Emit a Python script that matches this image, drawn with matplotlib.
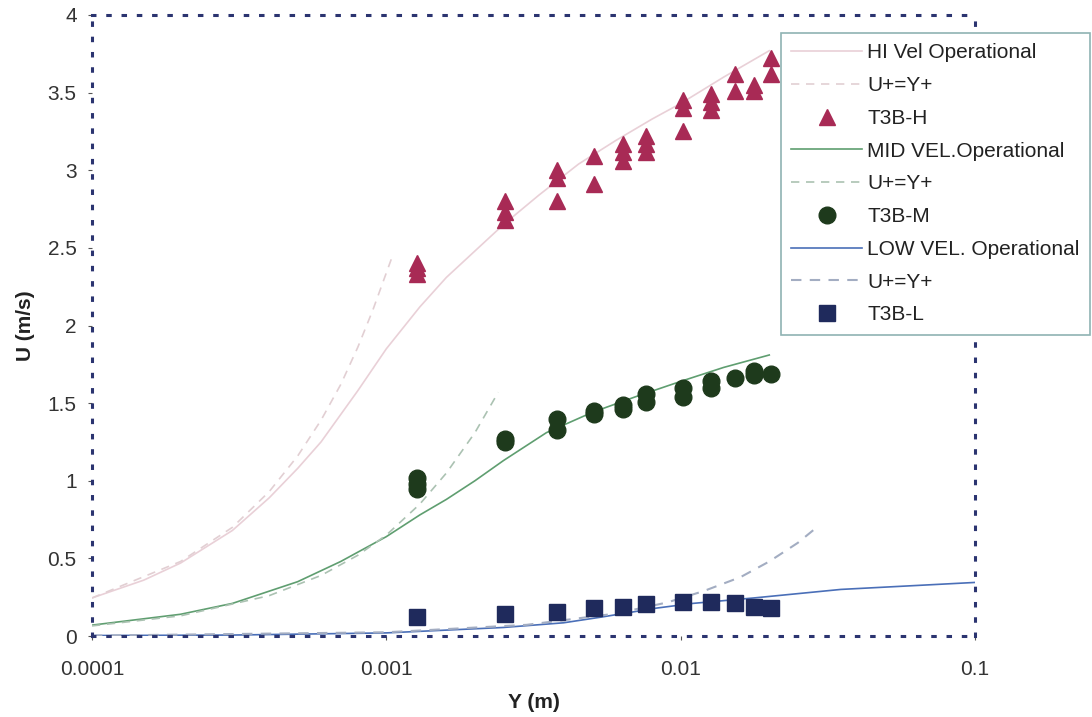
import numpy as np
import matplotlib.pyplot as plt
from matplotlib.ticker import FixedLocator, NullLocator

plt.rcParams['font.family'] = ['Liberation Sans', 'DejaVu Sans']

# measurement heights (m), 0.05 inch steps
y_pos = [0.00127, 0.00254, 0.00381, 0.00508, 0.00635, 0.00762,
         0.01016, 0.0127, 0.01524, 0.01778, 0.02032]

# T3B-H (several repeats per height)
h_vals = [[2.40, 2.37, 2.33], [2.80, 2.73, 2.68], [3.00, 2.95, 2.80],
          [3.09, 2.91], [3.17, 3.12, 3.06], [3.22, 3.17, 3.12],
          [3.45, 3.40, 3.25], [3.49, 3.44, 3.39], [3.62, 3.51],
          [3.55, 3.51], [3.72, 3.62]]
# T3B-M
m_vals = [[1.02, 0.98, 0.95], [1.27, 1.25], [1.40, 1.33], [1.45, 1.43],
          [1.49, 1.46], [1.56, 1.51], [1.60, 1.54], [1.64, 1.60],
          [1.66], [1.71, 1.68], [1.69]]
# T3B-L
l_vals = [0.12, 0.14, 0.155, 0.18, 0.19, 0.205, 0.22, 0.22, 0.21, 0.19, 0.18]

# HI vel operational profile
hi_y = [1e-4, 1.5e-4, 2e-4, 3e-4, 4e-4, 5e-4, 6e-4, 8e-4, 1e-3, 1.3e-3,
        1.6e-3, 2e-3, 2.5e-3, 3.3e-3, 4.5e-3, 6e-3, 8e-3, 1e-2, 1.4e-2, 2e-2]
hi_u = [0.245, 0.36, 0.47, 0.68, 0.89, 1.08, 1.25, 1.58, 1.85, 2.12,
        2.31, 2.48, 2.65, 2.84, 3.04, 3.19, 3.33, 3.43, 3.60, 3.77]
hi_lin_y = [1e-4, 2e-4, 3e-4, 4e-4, 5e-4, 6e-4, 7e-4, 8e-4, 9e-4, 1.05e-3]
hi_lin_u = [0.245, 0.48, 0.70, 0.93, 1.16, 1.39, 1.62, 1.86, 2.10, 2.45]

# MID vel operational profile
mid_y = [1e-4, 2e-4, 3e-4, 5e-4, 7e-4, 1e-3, 1.3e-3, 1.6e-3, 2e-3, 2.5e-3,
         3.5e-3, 5e-3, 7e-3, 1e-2, 1.4e-2, 2e-2]
mid_u = [0.07, 0.14, 0.21, 0.35, 0.48, 0.64, 0.78, 0.88, 1.00, 1.13,
         1.31, 1.44, 1.54, 1.64, 1.73, 1.81]
mid_lin_y = [1e-4, 2e-4, 4e-4, 6e-4, 8e-4, 1e-3, 1.3e-3, 1.6e-3, 2e-3, 2.4e-3]
mid_lin_u = [0.065, 0.13, 0.26, 0.39, 0.52, 0.65, 0.85, 1.05, 1.31, 1.57]

# LOW vel operational profile
low_y = [1e-4, 3e-4, 1e-3, 2.5e-3, 4e-3, 5.3e-3, 8.3e-3, 1.1e-2, 1.77e-2,
         3.5e-2, 0.1]
low_u = [0.003, 0.006, 0.02, 0.055, 0.085, 0.12, 0.18, 0.21, 0.245, 0.30, 0.345]
low_lin_y = [1e-4, 1e-3, 3e-3, 6e-3, 9e-3, 0.012, 0.016, 0.02, 0.025, 0.029]
low_lin_u = [0.0024, 0.024, 0.072, 0.144, 0.216, 0.29, 0.38, 0.48, 0.60, 0.70]

fig = plt.figure(figsize=(10.92, 7.17), dpi=100)
ax = fig.add_axes([92/1092, 81/717, (975-92)/1092, (636-15)/717])
ax.set_xscale('log')

ax.plot(hi_y, hi_u, color='#e9d0d7', lw=1.2, label='HI Vel Operational')
ax.plot(hi_lin_y, hi_lin_u, color='#e2cfd3', lw=1.2, ls=(0, (5, 4)), label='U+=Y+')
hx = [y for y, v in zip(y_pos, h_vals) for _ in v]
hv = [u for v in h_vals for u in v]
ax.plot(hx, hv, ls='none', marker='^', ms=11, color='#a82a55', label='T3B-H')

ax.plot(mid_y, mid_u, color='#5f9e70', lw=1.2, label='MID VEL.Operational')
ax.plot(mid_lin_y, mid_lin_u, color='#abc2b2', lw=1.2, ls=(0, (5, 4)), label='U+=Y+')
mx = [y for y, v in zip(y_pos, m_vals) for _ in v]
mv = [u for v in m_vals for u in v]
ax.plot(mx, mv, ls='none', marker='o', ms=12, color='#1e3a1c', label='T3B-M')

ax.plot(low_y, low_u, color='#4a6fb8', lw=1.2, label='LOW VEL. Operational')
ax.plot(low_lin_y, low_lin_u, color='#a3adc2', lw=1.5, ls=(0, (5, 4)), label='U+=Y+')
ax.plot(y_pos, l_vals, ls='none', marker='s', ms=11, color='#1f2a5c', label='T3B-L')

ax.set_xlim(1e-4, 0.1)
ax.set_ylim(0, 4)
ax.xaxis.set_major_locator(FixedLocator([1e-4, 1e-3, 1e-2, 1e-1]))
ax.xaxis.set_minor_locator(NullLocator())
ax.set_xticklabels(['0.0001', '0.001', '0.01', '0.1'])
ax.set_yticks([0, 0.5, 1, 1.5, 2, 2.5, 3, 3.5, 4])
ax.set_yticklabels(['0', '0.5', '1', '1.5', '2', '2.5', '3', '3.5', '4'])
ax.tick_params(axis='x', length=3, pad=14, labelsize=15, color='#555555', labelcolor='#333333')
ax.tick_params(axis='y', length=3, pad=8, labelsize=15, color='#555555', labelcolor='#333333')

for s in ax.spines.values():
    s.set_color('#2b3470')
    s.set_linewidth(2.2)
    s.set_linestyle((0, (0.8, 4.2)))

ax.set_xlabel('Y (m)', fontsize=15, fontweight='bold', color='#222222', labelpad=10)
ax.set_ylabel('U (m/s)', fontsize=15, fontweight='bold', color='#222222', labelpad=9)

leg = ax.legend(loc='upper left', bbox_to_anchor=(781/1092, 1 - 33/717),
                bbox_transform=fig.transFigure, fontsize=15, numpoints=1,
                handlelength=3.4, handletextpad=0.25, labelspacing=0.66,
                borderpad=0.5, borderaxespad=0, fancybox=False, framealpha=1)
leg.get_frame().set_edgecolor('#8fb3b3')
leg.get_frame().set_linewidth(1.2)
for t in leg.get_texts():
    t.set_color('#222222')

fig.savefig('out.png', dpi=100)
